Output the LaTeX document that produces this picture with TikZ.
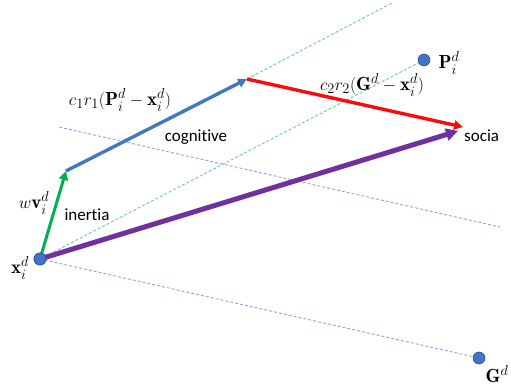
\documentclass[tikz,border=0pt]{standalone}
\usepackage{amsmath,amssymb}
\usepackage{fontspec}
\newfontfamily\calib[Ligatures=NoCommon]{Carlito}
\usetikzlibrary{arrows.meta}
\definecolor{psogreen}{RGB}{0,176,80}
\definecolor{psoblue}{RGB}{68,120,190}
\definecolor{psored}{RGB}{250,10,10}
\definecolor{psopurple}{RGB}{112,48,160}
\definecolor{dotfill}{RGB}{68,114,196}
\definecolor{dotedge}{RGB}{47,82,143}
\definecolor{guidegreen}{RGB}{110,200,170}
\definecolor{guideblue}{RGB}{140,165,215}

\begin{document}
\begin{tikzpicture}[x=1pt,y=-1pt,>={Triangle[length=9pt,width=9pt]}]
\tikzstyle{dot}=[circle,fill=dotfill,draw=dotedge,line width=0.6pt,inner sep=0pt,minimum size=12pt]
\tikzstyle{lbl}=[font=\fontsize{17}{19}\selectfont\calib,inner sep=0pt]
\tikzstyle{mlbl}=[font=\fontsize{19}{21}\selectfont,inner sep=0pt]
\tikzstyle{guideg}=[guidegreen,line width=0.9pt,dash pattern=on 3pt off 2pt]
\tikzstyle{guideb}=[guideblue,line width=0.9pt,dash pattern=on 3pt off 2pt]
\useasboundingbox (0,0) rectangle (511,387);
% points
\node[dot] (xi) at (40,259) {};
\node[dot] (pbest) at (424,60) {};
\node[dot] (gbest) at (479,358) {};
\coordinate (vtip) at (66,171);
\coordinate (ctip) at (247,79);
\coordinate (stip) at (463,127);
\coordinate (gend) at (392,3);
\coordinate (ba) at (59,127);
\coordinate (bb) at (500,227);
% guide lines
\draw[guideg] (xi.center)--(pbest);
\draw[guideg] (ctip)--(gend);
\draw[guideb] (xi.center)--(gbest);
\draw[guideb] (ba)--(bb);
% velocity parts
\draw[->,psogreen,line width=3pt] (xi.center)--(vtip);
\draw[->,psoblue,line width=3.4pt] (vtip)--(ctip);
\draw[->,psored,line width=3.4pt] (ctip)--(stip);
\draw[->,psopurple,line width=5pt,>={Triangle[length=12pt,width=12pt]}] (xi.center)--(458,131);
\node[dot] at (xi) {};
% labels
\node[mlbl] (lxi) at (20,268) {$\mathbf{x}_i^d$};
\node[mlbl] (lpb) at (449,63) {$\mathbf{P}_i^d$};
\node[mlbl] (lgb) at (497,374) {$\mathbf{G}^d$};
\node[mlbl] (lwv) at (34,203) {$w\mathbf{v}_i^d$};
\node[mlbl] (lcog) at (120,100) {$c_1r_1(\mathbf{P}_i^d-\mathbf{x}_i^d)$};
\node[mlbl] (lsoc) at (372,85) {$c_2r_2(\mathbf{G}^d-\mathbf{x}_i^d)$};
\node[lbl] (tin) at (87,215) {inertia};
\node[lbl] (tcog) at (196,137) {cognitive};
\node[lbl,anchor=west] (tsoc) at (464,136) {socia};
\end{tikzpicture}
\end{document}
